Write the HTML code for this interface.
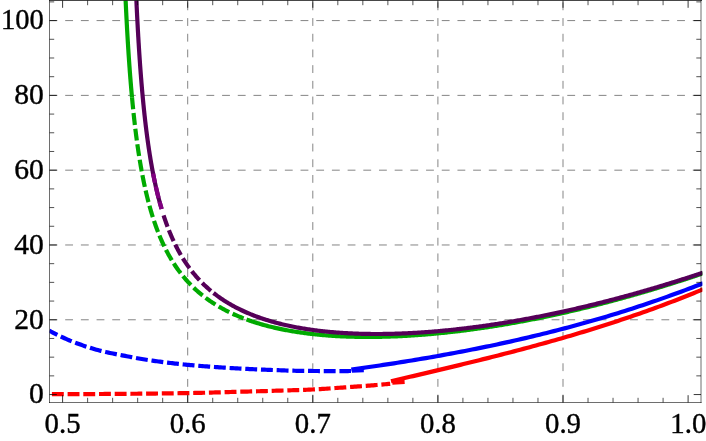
<!DOCTYPE html>
<html><head><meta charset="utf-8"><title>plot</title>
<style>html,body{margin:0;padding:0;background:#fff;}body{width:706px;height:441px;overflow:hidden;font-family:"Liberation Serif",serif;}svg{display:block;will-change:transform}</style>
</head><body>
<svg width="706" height="441" viewBox="0 0 706 441">
<rect width="706" height="441" fill="#fff"/>
<line x1="187.70" y1="402.5" x2="187.70" y2="0.5" stroke="#858585" stroke-width="1" stroke-dasharray="7.845 7.845"/>
<line x1="312.80" y1="402.5" x2="312.80" y2="0.5" stroke="#858585" stroke-width="1" stroke-dasharray="7.845 7.845"/>
<line x1="437.90" y1="402.5" x2="437.90" y2="0.5" stroke="#858585" stroke-width="1" stroke-dasharray="7.845 7.845"/>
<line x1="563.00" y1="402.5" x2="563.00" y2="0.5" stroke="#858585" stroke-width="1" stroke-dasharray="7.845 7.845"/>
<line x1="49.5" y1="319.77" x2="701.0" y2="319.77" stroke="#858585" stroke-width="1" stroke-dasharray="7.845 7.845"/>
<line x1="49.5" y1="244.97" x2="701.0" y2="244.97" stroke="#858585" stroke-width="1" stroke-dasharray="7.845 7.845"/>
<line x1="49.5" y1="170.18" x2="701.0" y2="170.18" stroke="#858585" stroke-width="1" stroke-dasharray="7.845 7.845"/>
<line x1="49.5" y1="95.38" x2="701.0" y2="95.38" stroke="#858585" stroke-width="1" stroke-dasharray="7.845 7.845"/>
<line x1="49.5" y1="20.59" x2="701.0" y2="20.59" stroke="#858585" stroke-width="1" stroke-dasharray="7.845 7.845"/>
<defs><clipPath id="c"><rect x="49.5" y="0.5" width="652.9" height="402.0"/></clipPath></defs>
<g clip-path="url(#c)" fill="none" stroke-linejoin="round">
<path d="M51.90,394.20 L53.60,394.20 L55.30,394.19 L57.00,394.19 L58.70,394.18 L60.40,394.18 L62.10,394.17 L63.80,394.17 L65.50,394.16 L67.20,394.15 L68.90,394.15 L70.60,394.14 L72.30,394.13 L74.00,394.13 L75.70,394.12 L77.40,394.11 L79.10,394.11 L80.80,394.10 L82.50,394.09 L84.20,394.08 L85.90,394.07 L87.60,394.06 L89.30,394.06 L91.00,394.05 L92.70,394.04 L94.40,394.03 L96.10,394.02 L97.80,394.01 L99.50,394.00 L101.20,393.99 L102.90,393.98 L104.60,393.97 L106.30,393.96 L108.00,393.95 L109.70,393.94 L111.40,393.93 L113.10,393.92 L114.80,393.91 L116.50,393.89 L118.20,393.88 L119.90,393.87 L121.60,393.86 L123.30,393.84 L125.00,393.83 L126.70,393.82 L128.40,393.80 L130.10,393.79 L131.80,393.77 L133.50,393.76 L135.20,393.74 L136.90,393.73 L138.60,393.71 L140.30,393.70 L142.00,393.68 L143.70,393.66 L145.40,393.65 L147.10,393.63 L148.80,393.61 L150.50,393.59 L152.20,393.58 L153.90,393.56 L155.60,393.54 L157.30,393.52 L159.00,393.50 L160.70,393.48 L162.40,393.46 L164.10,393.44 L165.80,393.42 L167.50,393.39 L169.20,393.37 L170.90,393.35 L172.60,393.32 L174.30,393.30 L176.00,393.28 L177.70,393.25 L179.40,393.22 L181.10,393.20 L182.80,393.17 L184.50,393.14 L186.20,393.11 L187.90,393.08 L189.60,393.05 L191.30,393.02 L193.00,392.99 L194.70,392.95 L196.40,392.92 L198.10,392.88 L199.80,392.84 L201.50,392.81 L203.20,392.77 L204.90,392.73 L206.60,392.68 L208.30,392.64 L210.00,392.60 L211.70,392.56 L213.40,392.51 L215.10,392.46 L216.80,392.41 L218.50,392.35 L220.20,392.30 L221.90,392.25 L223.60,392.19 L225.30,392.14 L227.00,392.09 L228.70,392.04 L230.40,391.99 L232.10,391.94 L233.80,391.90 L235.50,391.85 L237.20,391.81 L238.90,391.76 L240.60,391.72 L242.30,391.68 L244.00,391.63 L245.70,391.59 L247.40,391.55 L249.10,391.50 L250.80,391.46 L252.50,391.41 L254.20,391.37 L255.90,391.32 L257.60,391.27 L259.30,391.23 L261.00,391.18 L262.70,391.13 L264.40,391.08 L266.10,391.03 L267.80,390.98 L269.50,390.93 L271.20,390.87 L272.90,390.82 L274.60,390.77 L276.30,390.72 L278.00,390.66 L279.70,390.61 L281.40,390.56 L283.10,390.50 L284.80,390.45 L286.50,390.40 L288.20,390.35 L289.90,390.30 L291.60,390.25 L293.30,390.19 L295.00,390.14 L296.70,390.09 L298.40,390.03 L300.10,389.98 L301.80,389.92 L303.50,389.86 L305.20,389.79 L306.90,389.73 L308.60,389.66 L310.30,389.59 L312.00,389.52 L313.70,389.44 L315.40,389.35 L317.10,389.26 L318.80,389.17 L320.50,389.06 L322.20,388.96 L323.90,388.85 L325.60,388.73 L327.30,388.61 L329.00,388.50 L330.70,388.37 L332.40,388.25 L334.10,388.13 L335.80,388.01 L337.50,387.88 L339.20,387.76 L340.90,387.64 L342.60,387.53 L344.30,387.41 L346.00,387.30 L347.70,387.18 L349.40,387.06 L351.10,386.95 L352.80,386.83 L354.50,386.71 L356.20,386.59 L357.90,386.46 L359.60,386.34 L361.30,386.22 L363.00,386.09 L364.70,385.96 L366.40,385.84 L368.10,385.71 L369.80,385.57 L371.50,385.44 L373.20,385.30 L374.90,385.16 L376.60,385.02 L378.30,384.88 L380.00,384.73 L381.70,384.58 L383.40,384.43 L385.10,384.28 L386.80,384.13 L388.50,383.96 L390.20,383.80" stroke="#ff0000" stroke-width="4.2" stroke-dasharray="11.9 3.8"/>
<path d="M392.30,382.70 L404.60,381.90" stroke="#ff0000" stroke-width="4.2"/>
<path d="M391.00,381.26 L394.15,380.52 L397.30,379.78 L400.45,379.04 L403.61,378.31 L406.76,377.57 L409.91,376.83 L413.06,376.09 L416.21,375.35 L419.36,374.61 L422.52,373.87 L425.67,373.12 L428.82,372.38 L431.97,371.63 L435.12,370.89 L438.27,370.14 L441.42,369.39 L444.58,368.63 L447.73,367.88 L450.88,367.12 L454.03,366.36 L457.18,365.60 L460.33,364.84 L463.48,364.07 L466.64,363.30 L469.79,362.53 L472.94,361.76 L476.09,360.98 L479.24,360.20 L482.39,359.41 L485.55,358.63 L488.70,357.84 L491.85,357.04 L495.00,356.24 L498.15,355.44 L501.30,354.63 L504.45,353.82 L507.61,353.01 L510.76,352.19 L513.91,351.37 L517.06,350.54 L520.21,349.71 L523.36,348.87 L526.52,348.03 L529.67,347.18 L532.82,346.32 L535.97,345.47 L539.12,344.60 L542.27,343.73 L545.42,342.86 L548.58,341.98 L551.73,341.09 L554.88,340.20 L558.03,339.30 L561.18,338.40 L564.33,337.49 L567.48,336.57 L570.64,335.64 L573.79,334.71 L576.94,333.77 L580.09,332.83 L583.24,331.88 L586.39,330.92 L589.55,329.95 L592.70,328.98 L595.85,328.00 L599.00,327.01 L602.15,326.01 L605.30,325.01 L608.45,323.99 L611.61,322.97 L614.76,321.94 L617.91,320.91 L621.06,319.86 L624.21,318.81 L627.36,317.74 L630.52,316.67 L633.67,315.59 L636.82,314.50 L639.97,313.40 L643.12,312.29 L646.27,311.17 L649.42,310.05 L652.58,308.91 L655.73,307.76 L658.88,306.60 L662.03,305.44 L665.18,304.26 L668.33,303.07 L671.48,301.87 L674.64,300.67 L677.79,299.45 L680.94,298.22 L684.09,296.98 L687.24,295.72 L690.39,294.46 L693.55,293.19 L696.70,291.90 L699.85,290.61 L703.00,289.30" stroke="#ff0000" stroke-width="4.2"/>
<path d="M49.35,330.70 L50.87,331.51 L52.38,332.30 L53.90,333.09 L55.41,333.86 L56.93,334.62 L58.44,335.37 L59.96,336.10 L61.48,336.83 L62.99,337.53 L64.51,338.22 L66.02,338.90 L67.54,339.56 L69.06,340.21 L70.57,340.84 L72.09,341.45 L73.60,342.05 L75.12,342.63 L76.63,343.20 L78.15,343.76 L79.67,344.31 L81.18,344.85 L82.70,345.39 L84.21,345.91 L85.73,346.42 L87.25,346.92 L88.76,347.41 L90.28,347.88 L91.79,348.34 L93.31,348.80 L94.82,349.23 L96.34,349.66 L97.86,350.07 L99.37,350.47 L100.89,350.85 L102.40,351.22 L103.92,351.58 L105.44,351.93 L106.95,352.28 L108.47,352.61 L109.98,352.93 L111.50,353.25 L113.01,353.56 L114.53,353.87 L116.05,354.17 L117.56,354.47 L119.08,354.76 L120.59,355.05 L122.11,355.35 L123.63,355.64 L125.14,355.93 L126.66,356.22 L128.17,356.51 L129.69,356.80 L131.20,357.08 L132.72,357.37 L134.24,357.65 L135.75,357.93 L137.27,358.21 L138.78,358.48 L140.30,358.74 L141.82,359.00 L143.33,359.26 L144.85,359.51 L146.36,359.75 L147.88,359.98 L149.39,360.21 L150.91,360.43 L152.43,360.65 L153.94,360.86 L155.46,361.07 L156.97,361.28 L158.49,361.49 L160.01,361.69 L161.52,361.89 L163.04,362.08 L164.55,362.28 L166.07,362.47 L167.58,362.66 L169.10,362.84 L170.62,363.02 L172.13,363.20 L173.65,363.37 L175.16,363.55 L176.68,363.71 L178.20,363.88 L179.71,364.04 L181.23,364.20 L182.74,364.35 L184.26,364.50 L185.77,364.65 L187.29,364.79 L188.81,364.93 L190.32,365.07 L191.84,365.20 L193.35,365.34 L194.87,365.47 L196.39,365.60 L197.90,365.73 L199.42,365.85 L200.93,365.98 L202.45,366.10 L203.96,366.22 L205.48,366.34 L207.00,366.46 L208.51,366.57 L210.03,366.68 L211.54,366.80 L213.06,366.90 L214.58,367.01 L216.09,367.12 L217.61,367.22 L219.12,367.32 L220.64,367.42 L222.15,367.52 L223.67,367.62 L225.19,367.71 L226.70,367.80 L228.22,367.90 L229.73,367.98 L231.25,368.07 L232.77,368.16 L234.28,368.24 L235.80,368.33 L237.31,368.41 L238.83,368.49 L240.34,368.57 L241.86,368.65 L243.38,368.73 L244.89,368.81 L246.41,368.88 L247.92,368.96 L249.44,369.03 L250.96,369.10 L252.47,369.17 L253.99,369.24 L255.50,369.31 L257.02,369.38 L258.53,369.44 L260.05,369.51 L261.57,369.57 L263.08,369.63 L264.60,369.69 L266.11,369.75 L267.63,369.81 L269.15,369.87 L270.66,369.92 L272.18,369.98 L273.69,370.04 L275.21,370.10 L276.72,370.15 L278.24,370.21 L279.76,370.27 L281.27,370.33 L282.79,370.38 L284.30,370.44 L285.82,370.49 L287.34,370.54 L288.85,370.59 L290.37,370.64 L291.88,370.68 L293.40,370.72 L294.91,370.76 L296.43,370.80 L297.95,370.83 L299.46,370.85 L300.98,370.88 L302.49,370.90 L304.01,370.91 L305.53,370.92 L307.04,370.94 L308.56,370.95 L310.07,370.96 L311.59,370.97 L313.10,370.99 L314.62,371.00 L316.14,371.01 L317.65,371.02 L319.17,371.03 L320.68,371.04 L322.20,371.05 L323.72,371.06 L325.23,371.06 L326.75,371.07 L328.26,371.08 L329.78,371.08 L331.29,371.09 L332.81,371.09 L334.33,371.09 L335.84,371.10 L337.36,371.10 L338.87,371.10 L340.39,371.10 L341.91,371.10 L343.42,371.09 L344.94,371.07 L346.45,371.06 L347.97,371.04 L349.48,371.02 L351.00,371.00" stroke="#0000ff" stroke-width="4.2" stroke-dasharray="11.9 3.8" stroke-dashoffset="2.9"/>
<path d="M351.90,370.70 L363.80,370.20" stroke="#0000ff" stroke-width="4.2"/>
<path d="M351.30,369.54 L354.85,369.05 L358.41,368.55 L361.96,368.05 L365.51,367.54 L369.06,367.03 L372.62,366.51 L376.17,365.99 L379.72,365.46 L383.27,364.93 L386.83,364.39 L390.38,363.85 L393.93,363.30 L397.48,362.74 L401.04,362.18 L404.59,361.61 L408.14,361.03 L411.69,360.45 L415.25,359.87 L418.80,359.27 L422.35,358.67 L425.90,358.07 L429.46,357.46 L433.01,356.84 L436.56,356.21 L440.11,355.58 L443.67,354.94 L447.22,354.29 L450.77,353.63 L454.32,352.97 L457.88,352.30 L461.43,351.63 L464.98,350.94 L468.53,350.25 L472.09,349.55 L475.64,348.85 L479.19,348.13 L482.74,347.41 L486.30,346.68 L489.85,345.94 L493.40,345.19 L496.95,344.43 L500.51,343.67 L504.06,342.90 L507.61,342.12 L511.16,341.33 L514.72,340.53 L518.27,339.72 L521.82,338.90 L525.37,338.08 L528.93,337.24 L532.48,336.40 L536.03,335.55 L539.58,334.68 L543.14,333.81 L546.69,332.93 L550.24,332.04 L553.79,331.14 L557.35,330.23 L560.90,329.31 L564.45,328.37 L568.00,327.43 L571.56,326.48 L575.11,325.52 L578.66,324.55 L582.21,323.57 L585.77,322.57 L589.32,321.57 L592.87,320.56 L596.42,319.53 L599.98,318.50 L603.53,317.45 L607.08,316.39 L610.63,315.32 L614.19,314.24 L617.74,313.15 L621.29,312.05 L624.84,310.93 L628.40,309.81 L631.95,308.67 L635.50,307.52 L639.05,306.36 L642.61,305.18 L646.16,304.00 L649.71,302.80 L653.26,301.59 L656.82,300.37 L660.37,299.13 L663.92,297.88 L667.47,296.62 L671.03,295.35 L674.58,294.06 L678.13,292.77 L681.68,291.46 L685.24,290.13 L688.79,288.79 L692.34,287.44 L695.89,286.08 L699.45,284.70 L703.00,283.31" stroke="#0000ff" stroke-width="4.2"/>
<path d="M124.74,-19.95 L124.79,-18.75 L124.84,-17.55 L124.89,-16.35 L124.94,-15.15 L124.99,-13.95 L125.04,-12.74 L125.09,-11.54 L125.14,-10.34 L125.20,-9.14 L125.25,-7.94 L125.30,-6.74 L125.36,-5.53 L125.41,-4.33 L125.46,-3.13 L125.52,-1.93 L125.57,-0.73 L125.63,0.47 L125.68,1.67 L125.74,2.87 L125.80,4.08 L125.85,5.28 L125.91,6.48 L125.97,7.68 L126.03,8.88 L126.09,10.08 L126.15,11.28 L126.21,12.48 L126.27,13.69 L126.33,14.89 L126.39,16.09 L126.45,17.29 L126.51,18.49 L126.58,19.69 L126.64,20.89 L126.70,22.09 L126.77,23.29 L126.83,24.49 L126.90,25.70 L126.96,26.90 L127.03,28.10 L127.10,29.30 L127.16,30.50 L127.23,31.70 L127.30,32.90 L127.37,34.10 L127.44,35.30 L127.51,36.50 L127.58,37.70 L127.65,38.90 L127.72,40.10 L127.79,41.30 L127.87,42.50 L127.94,43.70 L128.02,44.90 L128.09,46.11 L128.17,47.31 L128.24,48.51 L128.32,49.71 L128.40,50.91 L128.47,52.11 L128.55,53.31 L128.63,54.51 L128.71,55.71 L128.79,56.91 L128.88,58.11 L128.96,59.31 L129.04,60.51 L129.13,61.70 L129.21,62.90 L129.30,64.10 L129.38,65.30 L129.47,66.50 L129.56,67.70 L129.64,68.90 L129.73,70.10 L129.82,71.30 L129.91,72.50 L130.01,73.70 L130.10,74.90 L130.19,76.10 L130.29,77.30 L130.38,78.49 L130.48,79.69 L130.57,80.89 L130.67,82.09 L130.77,83.29 L130.87,84.49 L130.97,85.69 L131.07,86.88 L131.17,88.08 L131.28,89.28 L131.38,90.48 L131.49,91.68 L131.59,92.88 L131.70,94.07 L131.81,95.27 L131.92,96.47 L132.03,97.67" stroke="#00aa00" stroke-width="4.2"/>
<path d="M132.01,97.44 L132.12,98.64 L132.23,99.83 L132.35,101.03 L132.46,102.22 L132.58,103.42 L132.69,104.62 L132.81,105.81 L132.93,107.01 L133.05,108.20 L133.17,109.40 L133.30,110.59 L133.42,111.79 L133.55,112.98 L133.67,114.18 L133.80,115.37 L133.93,116.57 L134.06,117.76 L134.19,118.96 L134.33,120.15 L134.46,121.35 L134.60,122.54 L134.73,123.73 L134.87,124.93 L135.01,126.12 L135.16,127.31 L135.30,128.51 L135.44,129.70 L135.59,130.89 L135.74,132.08 L135.89,133.28 L136.04,134.47 L136.19,135.66 L136.35,136.85 L136.51,138.04 L136.66,139.23 L136.82,140.42 L136.99,141.62 L137.15,142.81 L137.31,144.00 L137.48,145.19 L137.65,146.38 L137.82,147.56 L138.00,148.75 L138.17,149.94 L138.35,151.13 L138.53,152.32 L138.71,153.51 L138.89,154.69 L139.08,155.88 L139.26,157.07 L139.45,158.26 L139.65,159.44 L139.84,160.63 L140.04,161.81 L140.24,163.00 L140.44,164.18 L140.64,165.37 L140.85,166.55 L141.06,167.73 L141.27,168.92 L141.48,170.10 L141.70,171.28 L141.92,172.46 L142.14,173.64 L142.36,174.82 L142.59,176.00 L142.82,177.18 L143.05,178.36 L143.29,179.54 L143.53,180.72 L143.77,181.89 L144.01,183.07 L144.26,184.25 L144.51,185.42 L144.77,186.60 L145.02,187.77 L145.29,188.94 L145.55,190.11 L145.82,191.29 L146.09,192.46 L146.36,193.63 L146.64,194.80 L146.93,195.96 L147.21,197.13 L147.50,198.30 L147.79,199.46 L148.09,200.63 L148.39,201.79 L148.70,202.95 L149.01,204.11 L149.32,205.27 L149.64,206.43 L149.96,207.59 L150.29,208.74 L150.62,209.90 L150.96,211.05 L151.30,212.21 L151.64,213.36 L151.99,214.51 L152.34,215.65 L152.70,216.80 L153.07,217.95 L153.44,219.09 L153.81,220.23 L154.19,221.37 L154.58,222.51 L154.97,223.65 L155.36,224.78 L155.77,225.91 L156.17,227.04 L156.59,228.17 L157.00,229.30 L157.43,230.42 L157.86,231.54 L158.30,232.66 L158.74,233.78 L159.19,234.90 L159.64,236.01 L160.10,237.12 L160.57,238.22 L161.05,239.33 L161.53,240.43 L162.02,241.53 L162.51,242.62 L163.01,243.71 L163.52,244.80 L164.04,245.89 L164.56,246.97 L165.09,248.05 L165.63,249.12 L166.17,250.19 L166.73,251.26 L167.29,252.32 L167.86,253.38 L168.43,254.43 L169.02,255.49 L169.61,256.53 L170.21,257.57 L170.81,258.61 L171.43,259.64 L172.05,260.67 L172.68,261.69 L173.32,262.71 L173.97,263.72 L174.63,264.73 L175.29,265.73 L175.97,266.72 L176.65,267.71 L177.34,268.70 L178.04,269.67 L178.74,270.65 L179.46,271.61 L180.18,272.57 L180.91,273.52 L181.65,274.47 L182.40,275.41 L183.16,276.34 L183.93,277.27 L184.70,278.18 L185.49,279.10 L186.28,280.00 L187.08,280.90 L187.89,281.79 L188.70,282.67 L189.53,283.54 L190.36,284.41 L191.20,285.27 L192.05,286.12 L192.91,286.96 L193.77,287.79 L194.64,288.62 L195.52,289.44 L196.41,290.25 L197.31,291.05 L198.21,291.84 L199.12,292.62 L200.04,293.40 L200.96,294.17 L201.90,294.93 L202.83,295.68 L203.78,296.42 L204.73,297.15 L205.69,297.87 L206.66,298.59 L207.63,299.30 L208.61,299.99 L209.59,300.68 L210.58,301.37 L211.58,302.04 L212.58,302.70 L213.59,303.36 L214.60,304.00 L215.62,304.64 L216.64,305.27 L217.67,305.89 L218.70,306.50 L219.74,307.11 L220.78,307.70 L221.83,308.29 L222.89,308.87 L223.94,309.44 L225.00,310.00 L226.07,310.56 L227.14,311.10 L228.21,311.64 L229.29,312.17 L230.37,312.70 L231.46,313.21 L232.55,313.72 L233.64,314.22 L234.74,314.71 L235.84,315.20 L236.94,315.67 L238.05,316.14 L239.16,316.60 L240.27,317.06 L241.38,317.51 L242.50,317.95 L243.62,318.38 L244.74,318.81 L245.87,319.23 L247.00,319.64" stroke="#00aa00" stroke-width="4.2" stroke-dasharray="11.9 3.8"/>
<path d="M246.50,319.46 L247.63,319.87 L248.76,320.28 L249.90,320.67 L251.03,321.06 L252.17,321.45 L253.31,321.82 L254.45,322.19 L255.60,322.56 L256.74,322.92 L257.89,323.27 L259.04,323.61 L260.19,323.96 L261.34,324.29 L262.50,324.62 L263.65,324.94 L264.81,325.26 L265.97,325.57 L267.13,325.88 L268.29,326.18 L269.46,326.47 L270.62,326.76 L271.79,327.05 L272.95,327.33 L274.12,327.60 L275.29,327.87 L276.46,328.13 L277.64,328.39 L278.81,328.65 L279.98,328.90 L281.16,329.14 L282.34,329.38 L283.51,329.62 L284.69,329.85 L285.87,330.07 L287.05,330.30 L288.23,330.51 L289.41,330.73 L290.59,330.93 L291.78,331.14 L292.96,331.34 L294.14,331.53 L295.33,331.72 L296.52,331.91 L297.70,332.09 L298.89,332.27 L300.08,332.45 L301.26,332.62 L302.45,332.79 L303.64,332.95 L304.83,333.11 L306.02,333.26 L307.21,333.42 L308.41,333.56 L309.60,333.71 L310.79,333.85 L311.98,333.99 L313.17,334.12 L314.37,334.25 L315.56,334.38 L316.76,334.50 L317.95,334.62 L319.15,334.74 L320.34,334.85 L321.54,334.96 L322.73,335.07 L323.93,335.17 L325.12,335.27 L326.32,335.37 L327.52,335.46 L328.71,335.55 L329.91,335.64 L331.11,335.72 L332.31,335.80 L333.50,335.88 L334.70,335.96 L335.90,336.03 L337.10,336.10 L338.30,336.16 L339.50,336.23 L340.70,336.29 L341.89,336.34 L343.09,336.40 L344.29,336.45 L345.49,336.50 L346.69,336.55 L347.89,336.59 L349.09,336.63 L350.29,336.67 L351.49,336.71 L352.69,336.74 L353.89,336.77 L355.09,336.80 L356.29,336.82 L357.49,336.85 L358.69,336.87 L359.89,336.88 L361.09,336.90 L362.29,336.91 L363.49,336.92 L364.69,336.93 L365.89,336.94 L367.09,336.94 L368.30,336.94 L369.50,336.94 L370.70,336.93 L371.90,336.93 L373.10,336.92 L374.30,336.91 L375.50,336.89 L376.70,336.88 L377.90,336.86 L379.10,336.84 L380.30,336.82 L381.50,336.79 L382.70,336.77 L383.90,336.74 L385.10,336.71 L386.30,336.67 L387.50,336.64 L388.70,336.60 L389.90,336.56 L391.10,336.52 L392.30,336.48 L393.50,336.43 L394.70,336.38 L395.90,336.33 L397.10,336.28 L398.29,336.23 L399.49,336.17 L400.69,336.11 L401.89,336.05 L403.09,335.99 L404.29,335.93 L405.49,335.86 L406.69,335.79 L407.89,335.72 L409.08,335.65 L410.28,335.58 L411.48,335.50 L412.68,335.43 L413.88,335.35 L415.07,335.27 L416.27,335.18 L417.47,335.10 L418.67,335.01 L419.86,334.92 L421.06,334.83 L422.26,334.74 L423.45,334.65 L424.65,334.55 L425.85,334.45 L427.04,334.35 L428.24,334.25 L429.44,334.15 L430.63,334.05 L431.83,333.94 L433.02,333.83 L434.22,333.72 L435.41,333.61 L436.61,333.50 L437.80,333.38 L439.00,333.27 L440.19,333.15 L441.39,333.03 L442.58,332.91 L443.78,332.79 L444.97,332.66 L446.16,332.54 L447.36,332.41 L448.55,332.28 L449.74,332.15 L450.94,332.01 L452.13,331.88 L453.32,331.74 L454.51,331.61 L455.71,331.47 L456.90,331.33 L458.09,331.18 L459.28,331.04 L460.47,330.89 L461.67,330.75 L462.86,330.60 L464.05,330.45 L465.24,330.30 L466.43,330.14 L467.62,329.99 L468.81,329.83 L470.00,329.68 L471.19,329.52 L472.38,329.36 L473.57,329.19 L474.76,329.03 L475.95,328.87 L477.14,328.70 L478.33,328.53 L479.51,328.36 L480.70,328.19 L481.89,328.02 L483.08,327.85 L484.27,327.67 L485.45,327.49 L486.64,327.32 L487.83,327.14 L489.01,326.95 L490.20,326.77 L491.39,326.59 L492.57,326.40 L493.76,326.22 L494.94,326.03 L496.13,325.84 L497.31,325.65 L498.50,325.46 L499.68,325.26 L500.87,325.07 L502.05,324.87 L503.24,324.67 L504.42,324.48 L505.60,324.28 L506.79,324.07 L507.97,323.87 L509.15,323.67 L510.34,323.46 L511.52,323.25 L512.70,323.05 L513.88,322.84 L515.07,322.63 L516.25,322.41 L517.43,322.20 L518.61,321.99 L519.79,321.77 L520.97,321.55 L522.15,321.33 L523.33,321.11 L524.51,320.89 L525.69,320.67 L526.87,320.45 L528.05,320.22 L529.23,319.99 L530.41,319.77 L531.59,319.54 L532.76,319.31 L533.94,319.08 L535.12,318.84 L536.30,318.61 L537.47,318.37 L538.65,318.14 L539.83,317.90 L541.00,317.66 L542.18,317.42 L543.36,317.18 L544.53,316.94 L545.71,316.69 L546.88,316.45 L548.06,316.20 L549.23,315.95 L550.41,315.71 L551.58,315.46 L552.75,315.21 L553.93,314.95 L555.10,314.70 L556.27,314.44 L557.45,314.19 L558.62,313.93 L559.79,313.67 L560.96,313.41 L562.14,313.15 L563.31,312.89 L564.48,312.63 L565.65,312.37 L566.82,312.10 L567.99,311.83 L569.16,311.57 L570.33,311.30 L571.50,311.03 L572.67,310.76 L573.84,310.49 L575.01,310.21 L576.18,309.94 L577.35,309.66 L578.51,309.39 L579.68,309.11 L580.85,308.83 L582.02,308.55 L583.18,308.27 L584.35,307.99 L585.52,307.70 L586.68,307.42 L587.85,307.13 L589.01,306.84 L590.18,306.56 L591.35,306.27 L592.51,305.98 L593.67,305.69 L594.84,305.39 L596.00,305.10 L597.17,304.81 L598.33,304.51 L599.49,304.21 L600.66,303.92 L601.82,303.62 L602.98,303.32 L604.14,303.02 L605.31,302.72 L606.47,302.41 L607.63,302.11 L608.79,301.80 L609.95,301.50 L611.11,301.19 L612.27,300.88 L613.43,300.57 L614.59,300.26 L615.75,299.95 L616.91,299.64 L618.07,299.32 L619.23,299.01 L620.38,298.69 L621.54,298.38 L622.70,298.06 L623.86,297.74 L625.01,297.42 L626.17,297.10 L627.33,296.78 L628.48,296.45 L629.64,296.13 L630.79,295.80 L631.95,295.48 L633.10,295.15 L634.26,294.82 L635.41,294.49 L636.57,294.16 L637.72,293.83 L638.88,293.50 L640.03,293.17 L641.18,292.83 L642.33,292.50 L643.49,292.16 L644.64,291.82 L645.79,291.48 L646.94,291.15 L648.09,290.81 L649.24,290.46 L650.39,290.12 L651.55,289.78 L652.70,289.43 L653.84,289.09 L654.99,288.74 L656.14,288.40 L657.29,288.05 L658.44,287.70 L659.59,287.35 L660.74,287.00 L661.88,286.65 L663.03,286.29 L664.18,285.94 L665.33,285.58 L666.47,285.23 L667.62,284.87 L668.76,284.51 L669.91,284.15 L671.06,283.79 L672.20,283.43 L673.35,283.07 L674.49,282.71 L675.63,282.35 L676.78,281.98 L677.92,281.62 L679.06,281.25 L680.21,280.88 L681.35,280.51 L682.49,280.15 L683.63,279.78 L684.78,279.40 L685.92,279.03 L687.06,278.66 L688.20,278.29 L689.34,277.91 L690.48,277.53 L691.62,277.16 L692.76,276.78 L693.90,276.40 L695.04,276.02 L696.17,275.64 L697.31,275.26 L698.45,274.88 L699.59,274.50 L700.73,274.11 L701.86,273.73 L703.00,273.34" stroke="#00aa00" stroke-width="4.2"/>
<path d="M135.52,-19.94 L135.57,-18.74 L135.61,-17.54 L135.66,-16.33 L135.71,-15.13 L135.76,-13.93 L135.81,-12.73 L135.86,-11.53 L135.91,-10.33 L135.97,-9.12 L136.02,-7.92 L136.07,-6.72 L136.12,-5.52 L136.18,-4.32 L136.23,-3.12 L136.28,-1.91 L136.34,-0.71 L136.39,0.49 L136.45,1.69 L136.50,2.89 L136.56,4.09 L136.61,5.29 L136.67,6.50 L136.73,7.70 L136.79,8.90 L136.85,10.10 L136.90,11.30 L136.96,12.50 L137.02,13.70 L137.08,14.91 L137.14,16.11 L137.20,17.31 L137.27,18.51 L137.33,19.71 L137.39,20.91 L137.45,22.11 L137.52,23.31 L137.58,24.51 L137.65,25.72 L137.71,26.92 L137.78,28.12 L137.84,29.32 L137.91,30.52 L137.98,31.72 L138.05,32.92 L138.12,34.12 L138.18,35.32 L138.25,36.52 L138.33,37.72 L138.40,38.92 L138.47,40.12 L138.54,41.33 L138.61,42.53 L138.69,43.73 L138.76,44.93 L138.84,46.13 L138.91,47.33 L138.99,48.53 L139.06,49.73 L139.14,50.93 L139.22,52.13 L139.30,53.33 L139.38,54.53 L139.46,55.73 L139.54,56.93 L139.62,58.13 L139.70,59.33 L139.79,60.53 L139.87,61.73 L139.95,62.93 L140.04,64.13 L140.13,65.33 L140.21,66.53 L140.30,67.73 L140.39,68.93 L140.48,70.13 L140.57,71.33 L140.66,72.52 L140.75,73.72 L140.85,74.92 L140.94,76.12 L141.03,77.32 L141.13,78.52 L141.23,79.72 L141.32,80.92 L141.42,82.12 L141.52,83.32 L141.62,84.51 L141.72,85.71 L141.83,86.91 L141.93,88.11 L142.03,89.31 L142.14,90.51 L142.24,91.70 L142.35,92.90 L142.46,94.10 L142.57,95.30 L142.68,96.49 L142.79,97.69 L142.91,98.89 L143.02,100.09 L143.13,101.28 L143.25,102.48 L143.37,103.68 L143.49,104.87 L143.61,106.07 L143.73,107.27 L143.85,108.46 L143.97,109.66 L144.10,110.86 L144.23,112.05 L144.35,113.25 L144.48,114.45 L144.61,115.64 L144.74,116.84 L144.88,118.03 L145.01,119.23 L145.15,120.42 L145.28,121.62 L145.42,122.81 L145.56,124.01 L145.71,125.20 L145.85,126.39 L145.99,127.59 L146.14,128.78 L146.29,129.98 L146.44,131.17 L146.59,132.36 L146.74,133.56 L146.90,134.75 L147.06,135.94 L147.21,137.13 L147.37,138.33 L147.54,139.52 L147.70,140.71 L147.87,141.90 L148.03,143.09 L148.20,144.28 L148.38,145.47 L148.55,146.66 L148.72,147.85 L148.90,149.04 L149.08,150.23 L149.26,151.42 L149.45,152.61 L149.63,153.80 L149.82,154.98 L150.01,156.17 L150.21,157.36 L150.40,158.55 L150.60,159.73 L150.80,160.92 L151.00,162.10 L151.21,163.29 L151.41,164.47 L151.62,165.66 L151.84,166.84 L152.05,168.02 L152.27,169.21 L152.49,170.39 L152.71,171.57 L152.94,172.75 L153.17,173.93 L153.40,175.11 L153.64,176.29 L153.87,177.47 L154.11,178.65 L154.36,179.83 L154.61,181.01 L154.86,182.18 L155.11,183.36 L155.37,184.53 L155.63,185.71 L155.89,186.88 L156.16,188.05 L156.43,189.23 L156.70,190.40 L156.98,191.57 L157.26,192.74 L157.55,193.90 L157.83,195.07 L158.13,196.24 L158.42,197.40 L158.72,198.57 L159.03,199.73 L159.34,200.90 L159.65,202.06 L159.97,203.22 L160.29,204.38 L160.62,205.53 L160.95,206.69 L161.28,207.84 L161.62,209.00" stroke="#550058" stroke-width="4.2"/>
<path d="M153.10,173.60 L153.34,174.79 L153.57,175.98 L153.81,177.17 L154.06,178.36 L154.30,179.55 L154.55,180.74 L154.80,181.93 L155.06,183.12 L155.32,184.30 L155.58,185.49 L155.84,186.67 L156.11,187.86 L156.38,189.04 L156.66,190.22 L156.94,191.40 L157.22,192.58 L157.51,193.76 L157.80,194.94 L158.10,196.12 L158.40,197.30 L158.70,198.47 L159.01,199.65 L159.32,200.82 L159.63,201.99 L159.95,203.16 L160.28,204.33 L160.61,205.50 L160.94,206.67 L161.28,207.83 L161.62,209.00" stroke="#800080" stroke-width="4.2" stroke-dasharray="11.9 3.8" stroke-dashoffset="2.5"/>
<path d="M163.61,215.42 L163.98,216.57 L164.36,217.72 L164.75,218.86 L165.14,220.01 L165.53,221.15 L165.93,222.29 L166.34,223.43 L166.75,224.56 L167.17,225.70 L167.59,226.83 L168.02,227.96 L168.46,229.08 L168.90,230.21 L169.35,231.33 L169.80,232.45 L170.26,233.57 L170.73,234.68 L171.21,235.79 L171.69,236.90 L172.18,238.01 L172.67,239.11 L173.17,240.21 L173.68,241.31 L174.20,242.40 L174.72,243.49 L175.25,244.57 L175.79,245.66 L176.33,246.73 L176.89,247.81 L177.45,248.88 L178.01,249.95 L178.59,251.01 L179.17,252.07 L179.77,253.12 L180.37,254.17 L180.97,255.22 L181.59,256.26 L182.21,257.29 L182.84,258.32 L183.48,259.35 L184.13,260.36 L184.79,261.38 L185.46,262.39 L186.13,263.39 L186.81,264.39 L187.50,265.38 L188.20,266.37 L188.91,267.35 L189.62,268.32 L190.35,269.29 L191.08,270.25 L191.82,271.20 L192.57,272.15 L193.33,273.09 L194.10,274.02 L194.88,274.95 L195.66,275.87 L196.45,276.78 L197.25,277.69 L198.06,278.58 L198.88,279.47 L199.71,280.36 L200.54,281.23 L201.39,282.10 L202.24,282.95 L203.09,283.80 L203.96,284.65 L204.84,285.48 L205.72,286.31 L206.61,287.12 L207.51,287.93 L208.41,288.73 L209.32,289.53 L210.24,290.31 L211.17,291.08 L212.11,291.85 L213.05,292.61 L213.99,293.36" stroke="#550058" stroke-width="4.2" stroke-dasharray="11.9 3.8"/>
<path d="M213.51,292.98 L214.46,293.72 L215.41,294.45 L216.37,295.17 L217.33,295.89 L218.31,296.59 L219.28,297.29 L220.27,297.98 L221.26,298.66 L222.25,299.33 L223.26,300.00 L224.26,300.65 L225.28,301.30 L226.30,301.93 L227.32,302.56 L228.35,303.18 L229.38,303.80 L230.42,304.40 L231.46,305.00 L232.51,305.58 L233.57,306.16 L234.62,306.73 L235.68,307.30 L236.75,307.85 L237.82,308.40 L238.90,308.94 L239.97,309.47 L241.06,309.99 L242.14,310.50 L243.23,311.01 L244.32,311.51 L245.42,312.00 L246.52,312.49 L247.62,312.96 L248.73,313.43 L249.84,313.90 L250.95,314.35 L252.06,314.80 L253.18,315.24 L254.30,315.68 L255.42,316.10 L256.55,316.52 L257.68,316.94 L258.81,317.34 L259.94,317.74 L261.08,318.14 L262.22,318.52 L263.36,318.90 L264.50,319.28 L265.64,319.64 L266.79,320.01 L267.93,320.36 L269.08,320.71 L270.24,321.05 L271.39,321.39 L272.54,321.72 L273.70,322.05 L274.86,322.37 L276.02,322.68 L277.18,322.99 L278.34,323.30 L279.51,323.59 L280.67,323.89 L281.84,324.17 L283.01,324.45 L284.18,324.73 L285.35,325.00 L286.52,325.27 L287.69,325.53 L288.87,325.78 L290.04,326.04 L291.22,326.28 L292.39,326.52 L293.57,326.76 L294.75,326.99 L295.93,327.22 L297.11,327.44 L298.29,327.66 L299.48,327.87 L300.66,328.08 L301.84,328.29 L303.03,328.49 L304.21,328.68 L305.40,328.87 L306.59,329.06 L307.77,329.25 L308.96,329.43 L310.15,329.60 L311.34,329.77 L312.53,329.94 L313.72,330.10 L314.91,330.26 L316.10,330.42 L317.30,330.57 L318.49,330.72 L319.68,330.86 L320.87,331.00 L322.07,331.14 L323.26,331.27 L324.46,331.40 L325.65,331.53 L326.85,331.65 L328.04,331.77 L329.24,331.88 L330.44,331.99 L331.63,332.10 L332.83,332.21 L334.03,332.31 L335.22,332.41 L336.42,332.50 L337.62,332.60 L338.82,332.69 L340.02,332.77 L341.21,332.85 L342.41,332.93 L343.61,333.01 L344.81,333.08 L346.01,333.15 L347.21,333.22 L348.41,333.29 L349.61,333.35 L350.81,333.41 L352.01,333.46 L353.21,333.51 L354.41,333.56 L355.61,333.61 L356.81,333.65 L358.02,333.70 L359.22,333.74 L360.42,333.77 L361.62,333.80 L362.82,333.84 L364.02,333.86 L365.22,333.89 L366.42,333.91 L367.63,333.93 L368.83,333.95 L370.03,333.96 L371.23,333.98 L372.43,333.99 L373.63,333.99 L374.83,334.00 L376.04,334.00 L377.24,334.00 L378.44,334.00 L379.64,333.99 L380.84,333.99 L382.04,333.98 L383.25,333.97 L384.45,333.95 L385.65,333.94 L386.85,333.92 L388.05,333.90 L389.25,333.87 L390.45,333.85 L391.66,333.82 L392.86,333.79 L394.06,333.76 L395.26,333.72 L396.46,333.68 L397.66,333.65 L398.86,333.60 L400.06,333.56 L401.26,333.52 L402.46,333.47 L403.66,333.42 L404.86,333.37 L406.07,333.31 L407.27,333.26 L408.47,333.20 L409.67,333.14 L410.87,333.08 L412.07,333.02 L413.27,332.95 L414.47,332.88 L415.66,332.81 L416.86,332.74 L418.06,332.67 L419.26,332.59 L420.46,332.51 L421.66,332.43 L422.86,332.35 L424.06,332.27 L425.26,332.18 L426.46,332.10 L427.65,332.01 L428.85,331.92 L430.05,331.82 L431.25,331.73 L432.45,331.63 L433.64,331.54 L434.84,331.44 L436.04,331.33 L437.23,331.23 L438.43,331.13 L439.63,331.02 L440.83,330.91 L442.02,330.80 L443.22,330.69 L444.41,330.57 L445.61,330.46 L446.81,330.34 L448.00,330.22 L449.20,330.10 L450.39,329.98 L451.59,329.85 L452.78,329.73 L453.98,329.60 L455.17,329.47 L456.37,329.34 L457.56,329.21 L458.76,329.07 L459.95,328.94 L461.14,328.80 L462.34,328.66 L463.53,328.52 L464.72,328.38 L465.92,328.23 L467.11,328.09 L468.30,327.94 L469.49,327.79 L470.69,327.64 L471.88,327.49 L473.07,327.34 L474.26,327.18 L475.45,327.03 L476.64,326.87 L477.83,326.71 L479.03,326.55 L480.22,326.39 L481.41,326.22 L482.60,326.06 L483.79,325.89 L484.98,325.72 L486.17,325.55 L487.36,325.38 L488.54,325.21 L489.73,325.04 L490.92,324.86 L492.11,324.68 L493.30,324.50 L494.49,324.32 L495.67,324.14 L496.86,323.96 L498.05,323.78 L499.24,323.59 L500.42,323.40 L501.61,323.21 L502.80,323.02 L503.98,322.83 L505.17,322.64 L506.35,322.45 L507.54,322.25 L508.73,322.05 L509.91,321.85 L511.10,321.66 L512.28,321.45 L513.46,321.25 L514.65,321.05 L515.83,320.84 L517.02,320.64 L518.20,320.43 L519.38,320.22 L520.57,320.01 L521.75,319.80 L522.93,319.58 L524.11,319.37 L525.30,319.15 L526.48,318.94 L527.66,318.72 L528.84,318.50 L530.02,318.28 L531.20,318.06 L532.38,317.83 L533.56,317.61 L534.74,317.38 L535.92,317.15 L537.10,316.93 L538.28,316.70 L539.46,316.46 L540.64,316.23 L541.82,316.00 L543.00,315.76 L544.18,315.53 L545.35,315.29 L546.53,315.05 L547.71,314.81 L548.89,314.57 L550.06,314.33 L551.24,314.08 L552.42,313.84 L553.59,313.59 L554.77,313.34 L555.94,313.10 L557.12,312.85 L558.29,312.60 L559.47,312.34 L560.64,312.09 L561.82,311.84 L562.99,311.58 L564.17,311.32 L565.34,311.06 L566.51,310.80 L567.69,310.54 L568.86,310.28 L570.03,310.02 L571.20,309.76 L572.37,309.49 L573.55,309.22 L574.72,308.96 L575.89,308.69 L577.06,308.42 L578.23,308.15 L579.40,307.87 L580.57,307.60 L581.74,307.33 L582.91,307.05 L584.08,306.77 L585.25,306.50 L586.42,306.22 L587.59,305.94 L588.75,305.66 L589.92,305.37 L591.09,305.09 L592.26,304.81 L593.42,304.52 L594.59,304.23 L595.76,303.94 L596.92,303.66 L598.09,303.37 L599.26,303.07 L600.42,302.78 L601.59,302.49 L602.75,302.19 L603.92,301.90 L605.08,301.60 L606.24,301.30 L607.41,301.00 L608.57,300.70 L609.74,300.40 L610.90,300.10 L612.06,299.80 L613.22,299.49 L614.39,299.19 L615.55,298.88 L616.71,298.57 L617.87,298.27 L619.03,297.96 L620.19,297.65 L621.35,297.33 L622.51,297.02 L623.67,296.71 L624.83,296.39 L625.99,296.08 L627.15,295.76 L628.31,295.44 L629.47,295.12 L630.63,294.80 L631.78,294.48 L632.94,294.16 L634.10,293.84 L635.26,293.51 L636.41,293.19 L637.57,292.86 L638.72,292.53 L639.88,292.20 L641.04,291.87 L642.19,291.54 L643.35,291.21 L644.50,290.88 L645.66,290.55 L646.81,290.21 L647.96,289.88 L649.12,289.54 L650.27,289.20 L651.42,288.87 L652.58,288.53 L653.73,288.19 L654.88,287.84 L656.03,287.50 L657.18,287.16 L658.34,286.81 L659.49,286.47 L660.64,286.12 L661.79,285.78 L662.94,285.43 L664.09,285.08 L665.24,284.73 L666.39,284.38 L667.53,284.02 L668.68,283.67 L669.83,283.32 L670.98,282.96 L672.13,282.61 L673.27,282.25 L674.42,281.89 L675.57,281.53 L676.71,281.17 L677.86,280.81 L679.01,280.45 L680.15,280.09 L681.30,279.72 L682.44,279.36 L683.59,278.99 L684.73,278.63 L685.88,278.26 L687.02,277.89 L688.16,277.52 L689.31,277.15 L690.45,276.78 L691.59,276.41 L692.73,276.04 L693.88,275.66 L695.02,275.29 L696.16,274.91 L697.30,274.54 L698.44,274.16 L699.58,273.78 L700.72,273.40 L701.86,273.02 L703.00,272.64" stroke="#550058" stroke-width="4.2"/>
</g>
<path d="M49.5,0.0V403.0" stroke="#000" stroke-opacity="0.57" stroke-width="1" fill="none"/>
<path d="M49.0,402.5H701.5" stroke="#000" stroke-opacity="0.57" stroke-width="1" fill="none"/>
<path d="M701.0,403.0V0.0" stroke="#000" stroke-opacity="0.57" stroke-width="1" fill="none"/>
<path d="M49.0,0.5H702.0" stroke="#000" stroke-opacity="0.72" stroke-width="1" fill="none"/>
<path d="M87.62,402.5v-4.7M87.62,0.5v4.7M112.64,402.5v-4.7M112.64,0.5v4.7M137.66,402.5v-4.7M137.66,0.5v4.7M162.68,402.5v-4.7M162.68,0.5v4.7M212.72,402.5v-4.7M212.72,0.5v4.7M237.74,402.5v-4.7M237.74,0.5v4.7M262.76,402.5v-4.7M262.76,0.5v4.7M287.78,402.5v-4.7M287.78,0.5v4.7M337.82,402.5v-4.7M337.82,0.5v4.7M362.84,402.5v-4.7M362.84,0.5v4.7M387.86,402.5v-4.7M387.86,0.5v4.7M412.88,402.5v-4.7M412.88,0.5v4.7M462.92,402.5v-4.7M462.92,0.5v4.7M487.94,402.5v-4.7M487.94,0.5v4.7M512.96,402.5v-4.7M512.96,0.5v4.7M537.98,402.5v-4.7M537.98,0.5v4.7M588.02,402.5v-4.7M588.02,0.5v4.7M613.04,402.5v-4.7M613.04,0.5v4.7M638.06,402.5v-4.7M638.06,0.5v4.7M663.08,402.5v-4.7M663.08,0.5v4.7M49.5,375.86h4.7M701.0,375.86h-4.7M49.5,357.16h4.7M701.0,357.16h-4.7M49.5,338.46h4.7M701.0,338.46h-4.7M49.5,301.07h4.7M701.0,301.07h-4.7M49.5,282.37h4.7M701.0,282.37h-4.7M49.5,263.67h4.7M701.0,263.67h-4.7M49.5,226.27h4.7M701.0,226.27h-4.7M49.5,207.57h4.7M701.0,207.57h-4.7M49.5,188.88h4.7M701.0,188.88h-4.7M49.5,151.48h4.7M701.0,151.48h-4.7M49.5,132.78h4.7M701.0,132.78h-4.7M49.5,114.08h4.7M701.0,114.08h-4.7M49.5,76.69h4.7M701.0,76.69h-4.7M49.5,57.99h4.7M701.0,57.99h-4.7M49.5,39.29h4.7M701.0,39.29h-4.7M49.5,1.89h4.7M701.0,1.89h-4.7" stroke="#000" stroke-opacity="0.68" stroke-width="1" fill="none"/>
<path d="M62.60,402.5v-7.3M62.60,0.5v7.3M187.70,402.5v-7.3M187.70,0.5v7.3M312.80,402.5v-7.3M312.80,0.5v7.3M437.90,402.5v-7.3M437.90,0.5v7.3M563.00,402.5v-7.3M563.00,0.5v7.3M688.10,402.5v-7.3M688.10,0.5v7.3M49.5,394.56h7.3M701.0,394.56h-7.3M49.5,319.77h7.3M701.0,319.77h-7.3M49.5,244.97h7.3M701.0,244.97h-7.3M49.5,170.18h7.3M701.0,170.18h-7.3M49.5,95.38h7.3M701.0,95.38h-7.3M49.5,20.59h7.3M701.0,20.59h-7.3" stroke="#000" stroke-opacity="0.78" stroke-width="1" fill="none"/>
<g font-family="'Liberation Serif', serif" font-size="29.6" fill="#000" stroke="#000" stroke-width="0.4">
<text transform="translate(43.9,403.31)" text-anchor="end">0</text>
<text transform="translate(43.9,328.52)" text-anchor="end">20</text>
<text transform="translate(43.9,253.72)" text-anchor="end">40</text>
<text transform="translate(43.9,178.93)" text-anchor="end">60</text>
<text transform="translate(43.9,104.13)" text-anchor="end">80</text>
<text transform="translate(43.9,29.34) scale(0.965,1)" text-anchor="end">100</text>
<text transform="translate(62.60,433.25) scale(0.973,1)" text-anchor="middle">0.5</text>
<text transform="translate(187.70,433.25) scale(0.973,1)" text-anchor="middle">0.6</text>
<text transform="translate(312.80,433.25) scale(0.973,1)" text-anchor="middle">0.7</text>
<text transform="translate(437.90,433.25) scale(0.973,1)" text-anchor="middle">0.8</text>
<text transform="translate(563.00,433.25) scale(0.973,1)" text-anchor="middle">0.9</text>
<text transform="translate(688.30,433.25) scale(0.973,1)" text-anchor="middle">1.0</text>
</g>
</svg>
</body></html>
